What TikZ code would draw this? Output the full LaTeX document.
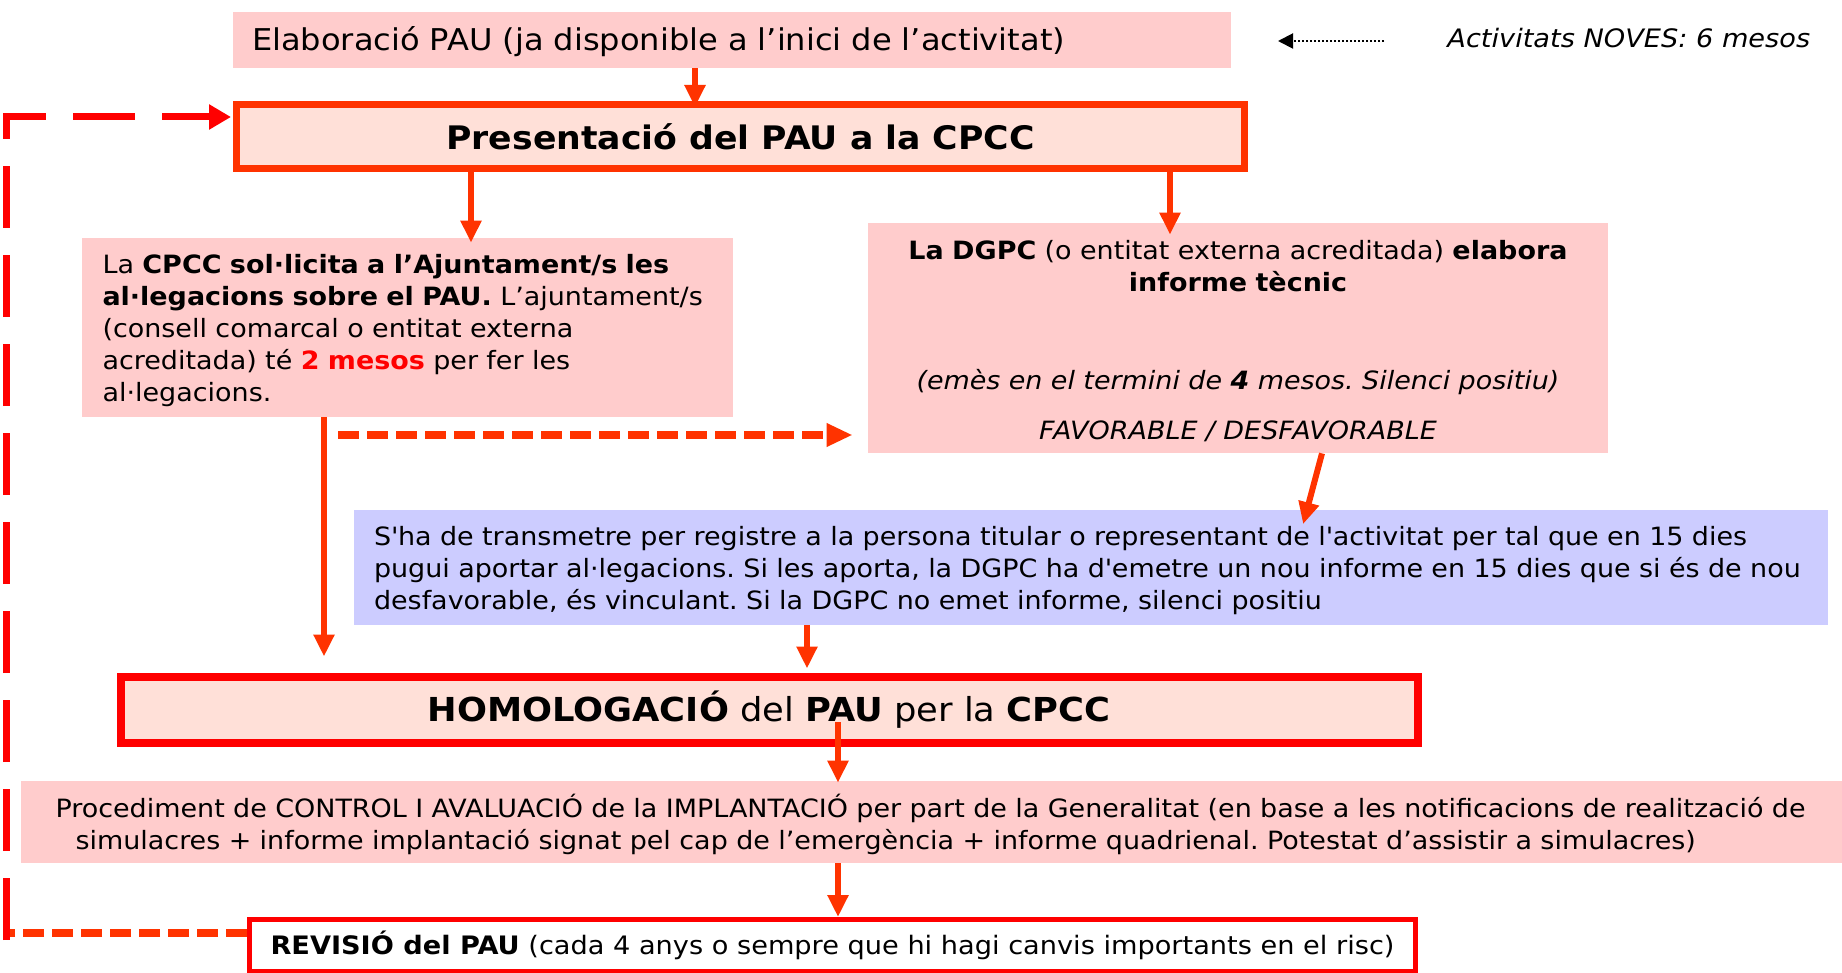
\documentclass[tikz,border=0pt]{standalone}
\usepackage{fontspec}
\setmainfont{DejaVu Sans}[FakeStretch=1.07]
\usetikzlibrary{arrows.meta}

\definecolor{boxpink}{RGB}{255,204,204}
\definecolor{boxblue}{RGB}{204,204,255}
\definecolor{hatchpink}{RGB}{255,224,216}
\definecolor{flowred}{RGB}{255,51,0}
\definecolor{framered}{RGB}{255,0,0}

\newcommand{\topstrut}[1]{\rule{0pt}{#1}}
\frenchspacing

\begin{document}
\begin{tikzpicture}[x=0.5pt,y=-0.5pt,
    pinkbox/.style={fill=boxpink, inner sep=0pt},
    bluebox/.style={fill=boxblue, inner sep=0pt},
    hatchbox/.style={fill=hatchpink, inner sep=0pt},
    bodytext/.style={font=\fontsize{12.6}{16}\selectfont},
    flow/.style={draw=flowred, line width=3pt, -{Triangle[length=11pt,width=10pt]}},
    dashflow/.style={draw=flowred, line width=3.8pt, dash pattern=on 10.5pt off 4pt},
    loopdash/.style={draw=framered, line width=3.5pt, dash pattern=on 31pt off 13.5pt},
    notearrow/.style={draw=black, line width=1pt, dash pattern=on 1pt off 1pt, -{Triangle[length=7.5pt,width=7.5pt]}}]
    \useasboundingbox (0,0) rectangle (1842,973);

    % boxes
    \node[pinkbox, minimum width=499pt, minimum height=28pt, text width=480pt, align=left,
          font=\fontsize{15}{17}\selectfont] (elab) at (732,40)
          {\topstrut{13.5pt}Elaboració PAU (ja disponible a l’inici de l’activitat)};
    \node[font=\itshape\fontsize{12.7}{16}\selectfont, anchor=west, inner sep=0pt] (noves) at (1447,38)
          {Activitats NOVES: 6 mesos};
    \coordinate (novestip) at (1278,41);

    \node[hatchbox, draw=flowred, line width=3.5pt, minimum width=504pt, minimum height=32pt,
          font=\bfseries\fontsize{16.2}{19}\selectfont] (pres) at (740.5,136.5)
          {Presentació del PAU a la CPCC};

    \node[pinkbox, bodytext, minimum width=325.5pt, minimum height=89.5pt, text width=305pt, align=left]
          (ajunt) at (407.5,327.5)
          {\topstrut{13pt}La \textbf{CPCC sol·licita a l’Ajuntament/s les}\\
           \textbf{al·legacions sobre el PAU.} L’ajuntament/s\\
           (consell comarcal o entitat externa\\
           acreditada) té \textcolor{framered}{\textbf{2 mesos}} per fer les\\
           al·legacions.};

    \node[pinkbox, bodytext, minimum width=370pt, minimum height=115pt, text width=350pt, align=center]
          (dgpc) at (1238,338)
          {\topstrut{12.5pt}\textbf{La DGPC} (o entitat externa acreditada) \textbf{elabora}\\
           \textbf{informe tècnic}\\[33pt]
           \textit{(emès en el termini de \textbf{4} mesos. Silenci positiu)}\\[9pt]
           \textit{FAVORABLE / DESFAVORABLE}};

    \node[bluebox, bodytext, minimum width=737pt, minimum height=57.5pt, text width=717pt, align=left]
          (blue) at (1091,567.5)
          {\topstrut{13pt}S\textquotesingle ha de transmetre per registre a la persona titular o representant de l\textquotesingle activitat per tal que en 15 dies\\
           pugui aportar al·legacions. Si les aporta, la DGPC ha d\textquotesingle emetre un nou informe en 15 dies que si és de nou\\
           desfavorable, és vinculant. Si la DGPC no emet informe, silenci positiu};

    \node[hatchbox, draw=framered, line width=4pt, minimum width=648.5pt, minimum height=33pt,
          font=\fontsize{16.5}{19}\selectfont] (homol) at (769,709.5)
          {\textbf{HOMOLOGACIÓ} del \textbf{PAU} per la \textbf{CPCC}};

    \node[pinkbox, bodytext, minimum width=919.5pt, minimum height=41pt, text width=885pt, align=left]
          (proc) at (940.5,822)
          {\topstrut{14.5pt}Procediment de CONTROL I AVALUACIÓ de la IMPLANTACIÓ per part de la Generalitat (en base a les notificacions de realització de\\
           \hspace*{10pt}simulacres + informe implantació signat pel cap de l’emergència + informe quadrienal. Potestat d’assistir a simulacres)};

    \node[fill=white, draw=framered, line width=2.5pt, inner sep=0pt, minimum width=583pt, minimum height=26pt,
          font=\fontsize{12.7}{16}\selectfont] (rev) at (832.5,945.5)
          {\textbf{REVISIÓ del PAU} (cada 4 anys o sempre que hi hagi canvis importants en el risc)};

    % connectors
    \draw[notearrow] ([xshift=-31.5pt,yshift=-1.5pt]noves.west) -- (novestip);
    \draw[flow, shorten >=-3pt] ([xshift=-18.5pt]elab.south) -- ([xshift=-22.75pt]pres.north);
    \draw[flow, shorten >=-2.5pt] ([xshift=-134.75pt]pres.south) -- ([xshift=31.75pt]ajunt.north);
    \draw[flow, shorten >=-6pt] ([xshift=214.75pt,yshift=2.25pt]pres.south) -- ([xshift=-34pt]dgpc.north);
    \draw[flow, shorten >=8pt] ([xshift=-41.75pt]ajunt.south) -- ([xshift=-222.5pt]homol.north);
    \coordinate (dashstart) at (338,435);
    \draw[dashflow, -{Triangle[length=13pt,width=11pt]}, shorten >=7.5pt] (dashstart) -- (dashstart -| dgpc.west);
    \draw[flow, shorten >=-7.5pt] ([xshift=42pt]dgpc.south) -- ([xshift=108pt]blue.north);
    \draw[flow, shorten >=2pt] ([xshift=-142pt]blue.south) -- ([xshift=19pt]homol.north);
    \draw[flow, shorten >=-1pt] ([xshift=34.5pt,yshift=-6.25pt]homol.center) -- ([xshift=-51.25pt]proc.north);
    \draw[flow] ([xshift=-51.25pt]proc.south) -- ([xshift=2.75pt]rev.north);

    % feedback loop
    \coordinate (loopbot) at (6,940);
    \coordinate (looptop) at (6,117);
    \coordinate (revloop) at (rev.west |- 0,933);
    \draw[dashflow] (revloop) -- (loopbot |- revloop);
    \draw[loopdash, -{Triangle[length=11pt,width=12pt]}, shorten >=1pt]
          (loopbot) -- (looptop) -- ([yshift=9.75pt]pres.west);

\end{tikzpicture}
\end{document}
